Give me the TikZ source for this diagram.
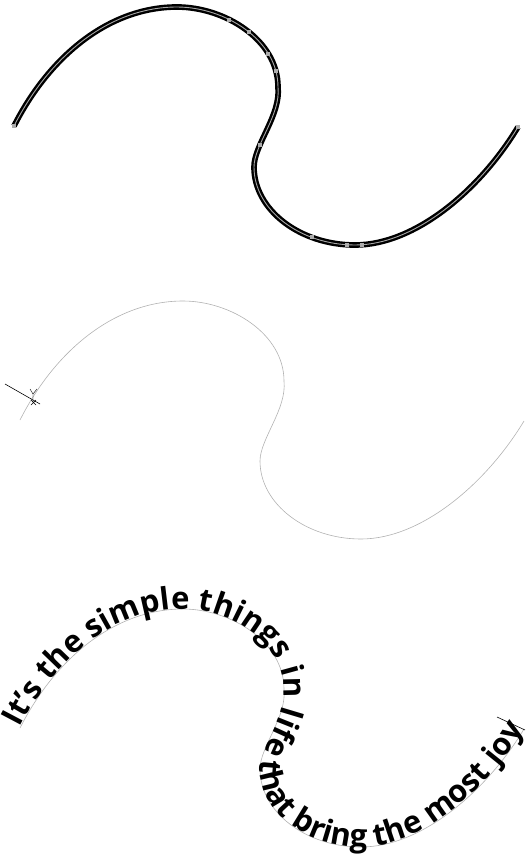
\documentclass[tikz,border=0pt]{standalone}
\usepackage{fontspec}
\setmainfont{Open Sans}
\usetikzlibrary{decorations.text}
\tikzset{
selected/.style={line width=2.4pt,double=gray!70,double distance=.9pt},
guide/.style={draw=gray!60,line width=.6pt},
handle/.style={rectangle,fill=gray!65,minimum size=3.2pt,inner sep=0pt},
caret/.style={draw=black,line width=.6pt},
onpath/.style={postaction={decorate},decoration={text along path,text align={fit to path},
  text={|\bfseries\fontsize{31}{31}\selectfont|#1}}}
}
% the S-shaped wave, in pixels of the page
\newcommand{\wave}{(14,126) .. controls (50,55) and (110,7) .. (177,7)
  .. controls (225,7) and (278,40) .. (278,87)
  .. controls (281,115) and (254,145) .. (254,167)
  .. controls (254,210) and (300,245) .. (355,245)
  .. controls (415,245) and (480,190) .. (518,127)}

\begin{document}
\begin{tikzpicture}[x=1pt,y=-1pt]
\useasboundingbox (0,0) rectangle (527,857);
% selected path with its anchors
\draw[selected] \wave;
\foreach \p [count=\i] in {(14,126),(229,20),(249,32),(268,54),(276,71),(260,145),(312,237),(347,245),(362,245),(518,127)}
  \node[handle] (h\i) at \p {};
% bare path with the type cursor
\begin{scope}[shift={(6,294)}]
\draw[guide] \wave;
\end{scope}
\coordinate (c1) at (5,384);\coordinate (c2) at (40,404);
\draw[caret] (c1)--(c2);
\draw[caret,line width=.4pt] (30,389)--(33,394)--(37,389) (33,394)--(33,402) (31,400)--(36,405) (31,405)--(36,400);
% text on path
\begin{scope}[shift={(6,602)}]
\draw[guide,onpath={It’s the simple things in life that bring the most joy}] \wave;
\end{scope}
\coordinate (e1) at (497,717);\coordinate (e2) at (525,730);
\draw[caret] (e1)--(e2);
\end{tikzpicture}
\end{document}
